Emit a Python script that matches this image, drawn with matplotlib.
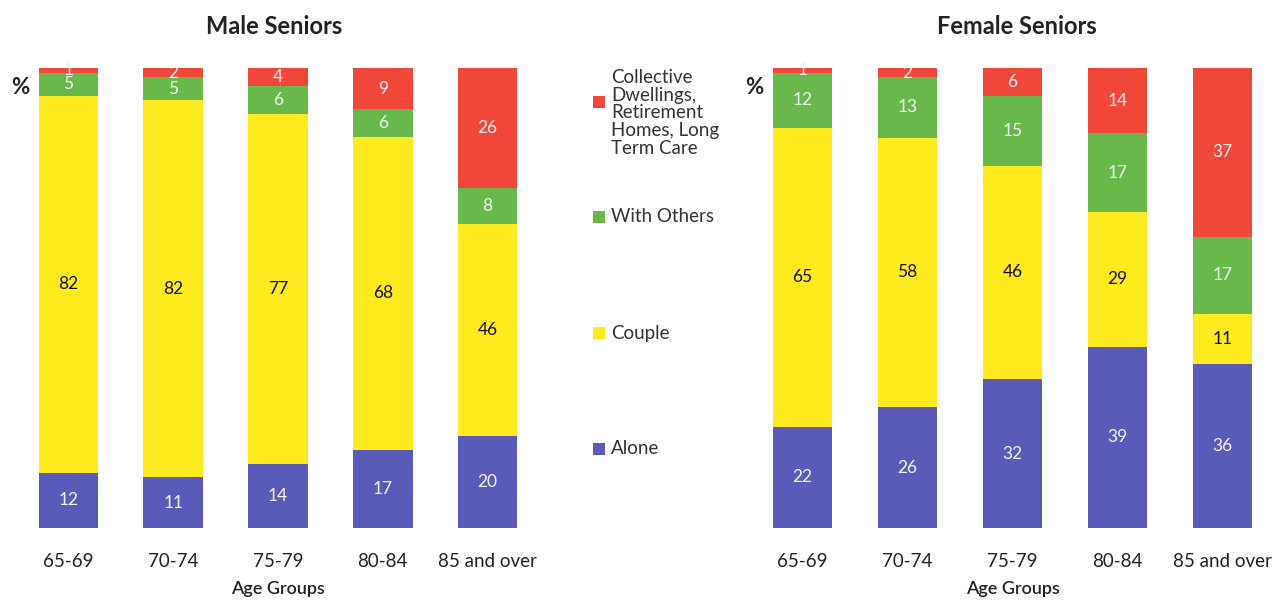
import matplotlib
matplotlib.use("Agg")
import matplotlib.pyplot as plt
from matplotlib.patches import Rectangle
import numpy as np

plt.rcParams['font.family'] = ['Lato', 'DejaVu Sans']

age_groups = ["65-69", "70-74", "75-79", "80-84", "85 and over"]
categories = ["Alone", "Couple", "With Others",
              "Collective\nDwellings,\nRetirement\nHomes, Long\nTerm Care"]
colors = ["#5A5AB8", "#FFEA1F", "#68B84C", "#F0473A"]
label_colors = ["#F2F2F2", "#111111", "#F2F2F2", "#F2F2F2"]

male_alone = [12, 11, 14, 17, 20]
male_couple = [82, 82, 77, 68, 46]
male_others = [5, 5, 6, 6, 8]
male_collective = [1, 2, 4, 9, 26]

female_alone = [22, 26, 32, 39, 36]
female_couple = [65, 58, 46, 29, 11]
female_others = [12, 13, 15, 17, 17]
female_collective = [1, 2, 6, 14, 37]

W, H = 1277, 600
fig = plt.figure(figsize=(W / 100, H / 100), dpi=100)
TXT = "#222222"


def draw_panel(rect, title, series, title_x):
    ax = fig.add_axes(rect)
    vals = np.array(series, dtype=float)
    totals = vals.sum(axis=0)
    shares = vals / totals * 100
    x = np.arange(len(age_groups))
    bottom = np.zeros(len(age_groups))
    for k in range(len(series)):
        ax.bar(x, shares[k], 0.57, bottom=bottom, color=colors[k],
               edgecolor="none")
        for i in range(len(x)):
            ax.text(x[i], bottom[i] + shares[k][i] / 2, str(series[k][i]),
                    ha="center", va="center", fontsize=12.5,
                    color=label_colors[k])
        bottom += shares[k]
    ax.set_xlim(-0.5, len(x) - 0.5)
    ax.set_ylim(0, 100)
    ax.set_xticks(x)
    ax.set_xticklabels(age_groups, fontsize=13.5, color=TXT)
    ax.tick_params(axis="x", length=0, pad=18)
    ax.set_yticks([])
    for s in ax.spines.values():
        s.set_visible(False)
    left, _, width, _ = rect
    fig.text(left + width / 2, 1 - 589 / H, "Age Groups", ha="center",
             va="center", fontsize=13, fontweight="semibold", color=TXT)
    fig.text(title_x / W, 1 - 27 / H, title, ha="center", va="center",
             fontsize=17, fontweight="bold", color=TXT)
    return ax


bot = (H - 528) / H
top = (H - 68) / H
draw_panel([16 / W, bot, 524 / W, top - bot], "Male Seniors",
           [male_alone, male_couple, male_others, male_collective], 274)
draw_panel([750 / W, bot, 525 / W, top - bot], "Female Seniors",
           [female_alone, female_couple, female_others, female_collective], 1017)

for px in (11, 745):
    fig.text(px / W, 1 - 87 / H, "%", ha="left", va="center",
             fontsize=16, fontweight="bold", color=TXT)

# legend column between the panels
marker_y = [449, 333, 217, 102]
text_y = [449, 333, 217, 113]
for k in range(len(categories)):
    fig.patches.append(Rectangle((593 / W, 1 - (marker_y[k] + 6) / H),
                                 12 / W, 12 / H, transform=fig.transFigure,
                                 facecolor=colors[k], edgecolor="none"))
    fig.text(611 / W, 1 - text_y[k] / H, categories[k], ha="left",
             va="center", fontsize=13.5, color="#333333", linespacing=1.05)

fig.savefig("out.png", dpi=100, facecolor="white")
